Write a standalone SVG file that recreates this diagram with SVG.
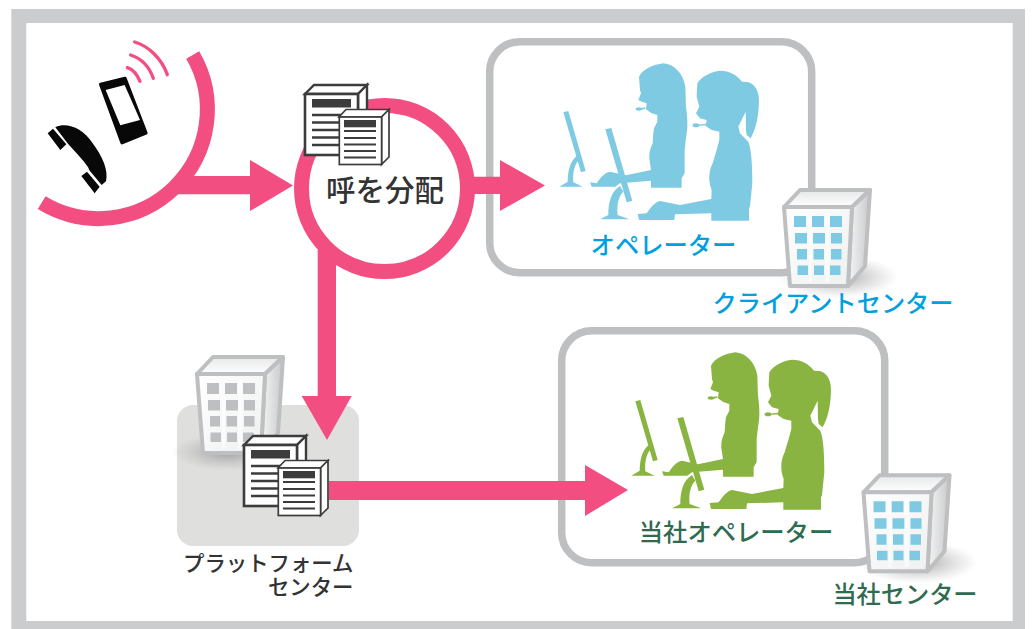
<svg xmlns="http://www.w3.org/2000/svg" width="1034" height="629" viewBox="0 0 1034 629">
<style>
.t{font-family:"Noto Sans CJK JP","Liberation Sans",sans-serif;font-weight:500}
.conn{fill:#f24e82}
.box{fill:#fff;stroke:#bebfc1;stroke-width:7.5}
.ring{fill:none;stroke:#f24e82;stroke-width:15}
.wave{fill:none;stroke:#f24e82;stroke-width:10;stroke-linecap:round}
.dk{fill:#3c3c3c}
.bl{stroke:#bebfc1;stroke-width:4;stroke-linejoin:round}
</style>
<defs>
<linearGradient id="gf" x1="0" y1="0" x2="1" y2="1"><stop offset="0" stop-color="#fff"/><stop offset="1" stop-color="#eeefef"/></linearGradient>
<linearGradient id="gs" x1="0" y1="0" x2="1" y2="0"><stop offset="0" stop-color="#f6f6f6"/><stop offset="1" stop-color="#c8c9cb"/></linearGradient>
<linearGradient id="gt" x1="0" y1="0" x2="0" y2="1"><stop offset="0" stop-color="#e6e7e8"/><stop offset="1" stop-color="#fff"/></linearGradient>
<radialGradient id="sh"><stop offset="0" stop-color="#8f9092" stop-opacity=".8"/><stop offset=".5" stop-color="#a0a0a0" stop-opacity=".4"/><stop offset="1" stop-color="#b0b0b0" stop-opacity="0"/></radialGradient>
<g id="ops" transform="translate(540 50) scale(.3333)">
<path d="M370 40C402 42 430 70 436 110L438 170C442 200 445 230 438 265L434 300L434 370L425 385L425 413L333 413L333 392L240 400L226 410L155 410L150 397L170 400C180 385 195 366 210 365L258 376L333 360L330 340C325 320 328 300 338 280L340 250L342 235L352 215L352 195L335 190L318 178L320 160L305 155L295 150L303 130L300 120L297 80C310 55 340 45 370 40Z"/>
<ellipse cx="297" cy="177" rx="10" ry="5"/><path d="M300 175L316 172V177L300 179Z"/>
<path d="M540 62C570 62 590 75 606 95L622 96C645 100 657 125 657 150C657 190 650 235 632 265L620 255L618 240L617 185L595 230L600 250L625 275C635 300 637 350 637 400L630 470L627 475L627 512L514 512L514 490L405 493L403 510L297 510L293 492L320 490C330 475 345 455 360 453L420 465L514 447L515 420C505 395 505 365 518 340L530 300L538 270L538 245L515 240L497 228L500 210L480 205L468 190L478 170L470 140L472 100C485 78 515 65 540 62Z"/>
<ellipse cx="468" cy="226" rx="10" ry="6"/><path d="M472 224L498 221V226L472 228Z"/>
<path d="M70 187L85 183L137 363L123 367Z"/>
<path d="M110 318C90 335 84 360 83 395L58 410L128 410L100 397C98 370 102 345 117 330Z"/>
<path d="M196 238L214 234L277 452L260 457Z"/>
<path d="M240 408C212 425 205 460 205 495L180 508L268 508L233 495C230 465 235 440 250 425Z"/>
</g>
<ellipse id="bld" cx="838" cy="277" rx="60" ry="21" fill="url(#sh)"/>
<g id="body">
<path class="bl" fill="url(#gt)" d="M784 207L800 190L870 190L852 207Z"/>
<path class="bl" fill="url(#gs)" d="M852 207L870 190L865 266L848 286Z"/>
<path class="bl" fill="url(#gf)" d="M784 207L852 207L848 286L790 286Z"/>
</g>
<path id="win" d="M794 216h12v11h-12zM812 216h12v11h-12zM830 216h12v11h-12zM795 233h12v10.500h-12zM813 233h12v10.500h-12zM831 233h11v10.500h-11zM797 249h10v10.500h-10zM813.500 249h10.500v10.500h-10.500zM831 249h10.500v10.500h-10.500zM797.500 265.500h10.500v9.500h-10.500zM814 265.500h10v9.500h-10zM830 265.500h10.500v9.500h-10.500z"/>
<g id="stripes" fill="#fff" fill-opacity=".6"><rect x="809" y="213" width="3" height="69"/><rect x="825" y="213" width="4.500" height="69"/></g>
<g id="doc" stroke="#3c3c3c">
<path fill="#fff" stroke-width="2.400" d="M305 94L314 85L367 85L358 94Z"/>
<path fill="#fff" stroke-width="2.400" d="M358 94L367 85L367 146L358 155Z"/>
<rect x="305" y="94" width="53" height="61" fill="#fff" stroke-width="2.600"/>
<path stroke="none" class="dk" d="M312 99h39v8.500h-39z"/>
<path stroke-width="2.400" d="M312 115h39M312 122.500h39M312 130h39M312 137.500h39M312 145h39"/>
<path fill="#fff" stroke-width="1.700" d="M339 117L346 109.500L389 109.500L381.500 117Z"/>
<path fill="#fff" stroke-width="1.700" d="M381.500 117L389 109.500L389 157L381.500 164.500Z"/>
<rect x="339.300" y="117" width="42.300" height="47.500" fill="#fff" stroke-width="1.700"/>
<path stroke="none" class="dk" d="M344 120h32v7.300h-32z"/>
<path stroke-width="2.200" d="M344 131h32M344 138h32M344 144.500h32M344 151h32M344 157.500h32"/>
</g>
</defs>
<path fill="#cbcccd" fill-rule="evenodd" d="M11.300 9H1025V629H11.300ZM26.300 23V621H1012.700V23Z"/>

<g id="operators-blue">
<rect class="box" x="489.700" y="41.700" width="322" height="231" rx="30"/>
<use href="#ops" fill="#7fcae3"/>
<text class="t" x="663.500" y="254" font-size="24.300" text-anchor="middle" fill="#00a0e0">オペレーター</text>
</g>
<g id="operators-green">
<rect class="box" x="561.700" y="330.700" width="323" height="232" rx="30"/>
<use href="#ops" x="72" y="289" fill="#8ab441"/>
<text class="t" x="736" y="541" font-size="24.300" text-anchor="middle" fill="#2f6b50">当社オペレーター</text>
</g>

<g id="platform">
<rect x="177" y="405" width="182" height="141" rx="16" fill="#dfdfde"/>
<ellipse cx="227" cy="452" rx="55" ry="19" fill="url(#sh)"/>
<g transform="translate(-587 167)"><use href="#body"/><use href="#win" fill="#bebfc1"/><use href="#stripes"/></g>
<use href="#doc" x="-61" y="351"/>
<text class="t" font-size="21.400" text-anchor="end" fill="#333"><tspan x="353.500" y="571">プラットフォーム</tspan><tspan x="353.500" y="595">センター</tspan></text>
</g>

<g id="connectors">
<path class="conn" d="M178 176L250 176L250 160L293 185.500L250 211L250 194.300L165 194.300Z"/>
<path class="conn" d="M470 176.700L500 176.700L500 160L545 185.500L500 211L500 194L470 194Z"/>
<path class="conn" d="M317.700 250L336 250L336 396L351.700 396L327 440L301.700 396L317.700 396Z"/>
<path class="conn" d="M329 481H585V465L628 490L585 516V500H329Z"/>
</g>

<g id="phone">
<path class="ring" d="M192.700 55A109 109 0 0 1 41.700 202.700"/>
<g transform="translate(20 20) scale(.3333)">
<path fill="#080808" stroke="#080808" stroke-width="10" stroke-linejoin="round" d="M242 193L315 175L378 339L306 368Z"/>
<path fill="#fff" d="M257 210L314 195L360 300L301 316Z"/>
<path fill="#080808" d="M83 340L99 326L139 373L121 390Z"/>
<path fill="#080808" d="M106 322C140 305 188 325 217 368C248 410 266 450 258 484L245 495L208 451L204 441C190 420 165 395 144 371Z"/>
<path fill="#080808" d="M184 468L201 455L239 500L224 520Z"/>
<path class="wave" d="M322 143C340 148 352 165 360 184M332 105C362 115 388 140 400 175M344 66C385 78 425 115 442 164"/>
</g>
</g>

<g id="dist">
<circle class="ring" cx="384.500" cy="188.500" r="83"/>
<use href="#doc"/>
<text class="t" x="385" y="201" font-size="29.500" text-anchor="middle" fill="#333">呼を分配</text>
</g>

<g id="client-center">
<use href="#bld"/><use href="#body"/><use href="#win" fill="#7fcae3"/><use href="#stripes"/>
<text class="t" x="833" y="312" font-size="24.200" text-anchor="middle" fill="#00a0e0">クライアントセンター</text>
</g>

<g id="own-center">
<g transform="translate(79.500 285.300)"><use href="#bld"/><use href="#body"/><use href="#win" fill="#7fcae3"/><use href="#stripes"/></g>
<text class="t" x="905" y="603" font-size="24.200" text-anchor="middle" fill="#2f6b50">当社センター</text>
</g>
</svg>
